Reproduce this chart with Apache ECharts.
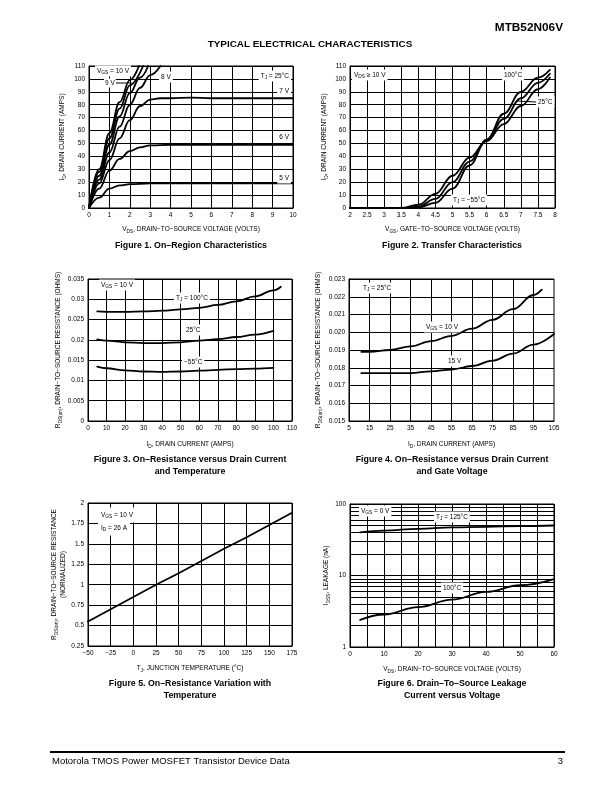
<!DOCTYPE html>
<html><head><meta charset="utf-8">
<script src="https://cdn.jsdelivr.net/npm/echarts@6/dist/echarts.min.js"></script>
<style>html,body{margin:0;padding:0;background:#fff}#c{width:612px;height:792px}</style>
</head><body><div id="c"></div>
<script>
// ---------- DATA ----------
// Figure 1: On-Region Characteristics (VDS volts, ID amps)
const fig1_10V = [[0,0],[0.5,30],[1,58],[1.5,82],[2,99],[2.45,110]];
const fig1_9V = [[0,0],[0.5,28],[1,54],[1.5,77],[2,95],[2.65,110]];
const fig1_extra = [[0,0],[0.5,25],[1,49],[1.5,71],[2,89],[2.5,101],[2.9,110]];
const fig1_8V = [[0,0],[0.5,22],[1,43],[1.5,63],[2,80],[2.5,93],[3,103],[3.5,110]];
const fig1_7V = [[0,0],[0.5,19],[1,37],[1.5,54],[2,68],[2.5,79],[3,84],[3.5,85],[4,85],[5,85.5],[6,85],[7,85],[8,85],[9,85],[10,85]];
const fig1_6V = [[0,0],[0.5,15],[1,29],[1.5,38],[2,44],[2.5,47],[3,48.5],[4,49],[5,49],[6,49],[7,49],[8,49],[9,49],[10,49]];
const fig1_5V = [[0,0],[0.5,8],[1,15],[1.5,17.5],[2,18.5],[3,19],[4,19],[5,19],[6,19],[7,19],[8,19],[9,19],[10,19]];
// Figure 2: Transfer Characteristics (VGS volts, ID amps)
const fig2_m55 = [[2,0],[3.6,0],[4,0.5],[4.5,4],[5,15],[5.5,33],[6,53],[6.5,73],[7,90],[7.5,101],[7.85,107]];
const fig2_25 = [[2,0],[3.6,0],[4,1],[4.5,7],[5,20],[5.5,36],[6,52],[6.5,69],[7,85],[7.5,97],[7.85,104]];
const fig2_100 = [[2,0],[3.5,0],[4,2.5],[4.5,11],[5,25],[5.5,39],[6,52],[6.5,65],[7,79],[7.5,92],[7.85,101]];
// Figure 3: RDS(on) vs ID and temperature
const fig3_100 = [[5,0.027],[10,0.0269],[20,0.0269],[30,0.027],[40,0.0272],[50,0.0275],[60,0.0279],[70,0.0286],[80,0.0295],[90,0.0307],[100,0.0322],[104,0.0331]];
const fig3_25 = [[5,0.0201],[10,0.0198],[20,0.0194],[30,0.0192],[40,0.0192],[50,0.0194],[60,0.0198],[70,0.0202],[80,0.0207],[90,0.0213],[100,0.0222]];
const fig3_m55 = [[5,0.0134],[10,0.013],[20,0.0125],[30,0.0122],[40,0.0121],[50,0.0122],[60,0.0124],[70,0.0126],[80,0.0128],[90,0.0129],[100,0.0131]];
// Figure 4: RDS(on) vs ID and gate voltage
const fig4_10V = [[11,0.0189],[15,0.0189],[25,0.019],[35,0.0192],[45,0.0195],[55,0.0198],[65,0.0202],[75,0.0207],[85,0.0213],[95,0.0221],[99,0.0224]];
const fig4_15V = [[11,0.0177],[15,0.0177],[25,0.0177],[35,0.0177],[45,0.0178],[55,0.0179],[65,0.0181],[75,0.0184],[85,0.0188],[95,0.0193],[105,0.0199]];
const fig4_gridX = [15,25,35,45,55,65,75,85,95];
// Figure 5: normalized RDS(on) vs TJ
const fig5_line = [[-50,0.55],[-25,0.70],[0,0.85],[25,1.0],[50,1.14],[75,1.29],[100,1.44],[125,1.58],[150,1.73],[175,1.88]];
// Figure 6: IDSS leakage vs VDS
const fig6_125 = [[3,40],[10,42.5],[20,45],[30,47],[40,48],[50,49],[60,50]];
const fig6_100 = [[3,2.4],[10,2.85],[20,3.6],[30,4.6],[40,5.9],[50,7.3],[60,8.9]];
const fig6_minorY = [2,3,4,5,6,7,8,9,20,30,40,50,60,70,80,90];

// ---------- STYLE / HELPERS ----------
const FONT = '"Liberation Sans", Arial, Helvetica, sans-serif';
const FS = 6.5;
const rich = {
  n: {fontSize: FS, fontFamily: FONT, color: '#000', lineHeight: 9},
  s: {fontSize: 4.8, fontFamily: FONT, color: '#000', verticalAlign: 'bottom', lineHeight: 5}
};
const sub = (a, s, b) => `{n|${a}}{s|${s}}{n|${b}}`;
const minus = v => String(v).replace('-', '\u2212');

const grids = [
  {left: 89, top: 66, width: 204, height: 142},
  {left: 350, top: 66, width: 205, height: 142},
  {left: 88, top: 279, width: 204, height: 142},
  {left: 349, top: 279, width: 205, height: 142},
  {left: 88, top: 503, width: 204, height: 143},
  {left: 350, top: 504, width: 204, height: 143}
].map(g => Object.assign({show: true, borderColor: '#000', borderWidth: 1, backgroundColor: 'transparent'}, g));

function axis(gi, o) {
  return Object.assign({
    gridIndex: gi, type: 'value',
    axisLine: {show: true, onZero: false, lineStyle: {color: '#000', width: 1}},
    axisTick: {show: false},
    splitLine: {show: true, lineStyle: {color: '#000', width: 1}},
    axisLabel: {color: '#000', fontSize: FS, fontFamily: FONT, margin: 4, showMinLabel: true, showMaxLabel: true},
    nameLocation: 'middle',
    nameTextStyle: {color: '#000', fontSize: FS, fontFamily: FONT, rich: rich}
  }, o);
}

const xAxes = [
  axis(0, {min: 0, max: 10, interval: 1, name: sub('V','DS',', DRAIN\u2212TO\u2212SOURCE VOLTAGE (VOLTS)'), nameGap: 17}),
  axis(1, {min: 2, max: 8, interval: 0.5, name: sub('V','GS',', GATE\u2212TO\u2212SOURCE VOLTAGE (VOLTS)'), nameGap: 17}),
  axis(2, {min: 0, max: 110, interval: 10, name: sub('I','D',', DRAIN CURRENT (AMPS)'), nameGap: 19}),
  axis(3, {min: 5, max: 105, interval: 5, splitLine: {show: false},
    axisLabel: {color: '#000', fontSize: FS, fontFamily: FONT, margin: 4, formatter: v => (Math.round(v) % 10 === 5 ? String(v) : '')},
    name: sub('I','D',', DRAIN CURRENT (AMPS)'), nameGap: 19}),
  axis(4, {min: -50, max: 175, interval: 25, axisLabel: {color: '#000', fontSize: FS, fontFamily: FONT, margin: 4, formatter: minus},
    name: sub('T','J',', JUNCTION TEMPERATURE (\u00B0C)'), nameGap: 18}),
  axis(5, {min: 0, max: 60, interval: 5, axisLabel: {color: '#000', fontSize: FS, fontFamily: FONT, margin: 4, formatter: v => (v % 10 === 0 ? String(v) : '')},
    name: sub('V','DS',', DRAIN\u2212TO\u2212SOURCE VOLTAGE (VOLTS)'), nameGap: 18})
];
const yAxes = [
  axis(0, {min: 0, max: 110, interval: 10, name: sub('I','D',', DRAIN CURRENT (AMPS)'), nameGap: 22, nameRotate: 90}),
  axis(1, {min: 0, max: 110, interval: 10, name: sub('I','D',', DRAIN CURRENT (AMPS)'), nameGap: 21, nameRotate: 90}),
  axis(2, {min: 0, max: 0.035, interval: 0.005, name: sub('R','DS(on)',', DRAIN\u2212TO\u2212SOURCE RESISTANCE (OHMS)'), nameGap: 25, nameRotate: 90}),
  axis(3, {min: 0.015, max: 0.023, interval: 0.001, axisLabel: {color: '#000', fontSize: FS, fontFamily: FONT, margin: 4, formatter: v => v.toFixed(3)},
    name: sub('R','DS(on)',', DRAIN\u2212TO\u2212SOURCE RESISTANCE (OHMS)'), nameGap: 26, nameRotate: 90}),
  axis(4, {min: 0.25, max: 2, interval: 0.25, name: sub('R','DS(on)',', DRAIN\u2212TO\u2212SOURCE RESISTANCE') + '\n{n|(NORMALIZED)}', nameGap: 20, nameRotate: 90}),
  axis(5, {type: 'log', logBase: 10, min: 1, max: 100, name: sub('I','DSS',', LEAKAGE (nA)'), nameGap: 19, nameRotate: 90})
];

function line(gi, data, o) {
  return Object.assign({
    type: 'line', xAxisIndex: gi, yAxisIndex: gi, data: data,
    showSymbol: false, smooth: 0.4, smoothMonotone: 'x', silent: true, animation: false,
    lineStyle: {color: '#000', width: 1.8, cap: 'round', join: 'round'}, z: 5
  }, o || {});
}
const mlStyle = {silent: true, symbol: ['none','none'], label: {show: false}, animation: false,
  lineStyle: {color: '#000', width: 1, type: 'solid'}, emphasis: {disabled: true}};

const series = [
  line(0, fig1_10V), line(0, fig1_9V), line(0, fig1_extra), line(0, fig1_8V),
  line(0, fig1_7V), line(0, fig1_6V), line(0, fig1_5V),
  line(1, fig2_m55), line(1, fig2_25), line(1, fig2_100),
  line(2, fig3_100), line(2, fig3_25), line(2, fig3_m55),
  line(3, fig4_10V, {markLine: Object.assign({data: fig4_gridX.map(v => ({xAxis: v}))}, mlStyle)}),
  line(3, fig4_15V),
  line(4, fig5_line, {smooth: false}),
  line(5, fig6_125, {markLine: Object.assign({data: fig6_minorY.map(v => ({yAxis: v}))}, mlStyle)}),
  line(5, fig6_100)
];

// ---------- TEXT ANNOTATIONS ----------
function txt(x, y, text, o) {
  o = o || {};
  return {type: 'text', x: x, y: y, z: 100, silent: true, style: {
    text: text, rich: rich, fill: '#000', font: (o.bold ? 'bold ' : '') + (o.size || FS) + 'px ' + FONT,
    backgroundColor: o.bg === false ? null : '#fff', padding: o.pad || [1, 2, 1, 2],
    align: o.align || 'left', verticalAlign: 'middle'}};
}
function ln(x1, y1, x2, y2, w) {
  return {type: 'line', z: 99, silent: true, shape: {x1, y1, x2, y2}, style: {stroke: '#000', lineWidth: w || 1}};
}
const cap = (x, y, t) => txt(x, y, t, {size: 8.8, bold: true, align: 'center', bg: false, pad: 0});

const graphics = [
  txt(565, 28, 'MTB52N06V', {size: 11.8, bold: true, align: 'right', bg: false, pad: 0}),
  txt(310, 44, 'TYPICAL ELECTRICAL CHARACTERISTICS', {size: 9.9, bold: true, align: 'center', bg: false, pad: 0}),
  // fig 1
  txt(95, 71, sub('V','GS',' = 10 V')),
  txt(104, 83, '{n|9 V}', {pad: [0, 1, 0, 1]}), ln(116, 83, 132, 83),
  txt(159, 77, '{n|8 V}'),
  txt(291, 76, sub('T','J',' = 25\u00B0C'), {align: 'right'}),
  txt(291, 91, '{n|7 V}', {align: 'right'}),
  txt(291, 137, '{n|6 V}', {align: 'right'}),
  txt(291, 178, '{n|5 V}', {align: 'right'}),
  // fig 2
  txt(352, 75, sub('V','DS',' \u2265 10 V')),
  txt(502, 75, '{n|100\u00B0C}'),
  ln(517, 101, 536, 102), txt(536, 102, '{n|25\u00B0C}'),
  txt(451, 200, sub('T','J',' = \u221255\u00B0C')),
  // fig 3
  txt(99, 285, sub('V','GS',' = 10 V')),
  txt(174, 298, sub('T','J',' = 100\u00B0C')),
  txt(184, 330, '{n|25\u00B0C}'),
  txt(182, 362, '{n|\u221255\u00B0C}'),
  // fig 4
  txt(361, 288, sub('T','J',' = 25\u00B0C')),
  txt(424, 327, sub('V','GS',' = 10 V')),
  txt(446, 361, '{n|15 V}'),
  // fig 5
  txt(98, 515, sub('V','GS',' = 10 V'), {pad: [3, 3, 3, 3]}),
  txt(98, 528, sub('I','D',' = 26 A'), {pad: [3, 3, 3, 3]}),
  // fig 6
  txt(359, 511, sub('V','GS',' = 0 V')),
  txt(434, 517, sub('T','J',' = 125\u00B0C')),
  txt(441, 588, '{n|100\u00B0C}'),
  // captions
  cap(191, 246, 'Figure 1. On\u2013Region Characteristics'),
  cap(452, 246, 'Figure 2. Transfer Characteristics'),
  cap(190, 460, 'Figure 3. On\u2013Resistance versus Drain Current'),
  cap(190, 472, 'and Temperature'),
  cap(452, 460, 'Figure 4. On\u2013Resistance versus Drain Current'),
  cap(452, 472, 'and Gate Voltage'),
  cap(190, 684, 'Figure 5. On\u2013Resistance Variation with'),
  cap(190, 696, 'Temperature'),
  cap(452, 684, 'Figure 6. Drain\u2013To\u2013Source Leakage'),
  cap(452, 696, 'Current versus Voltage'),
  // footer
  ln(50, 752, 565, 752, 2),
  txt(50, 761, 'Motorola TMOS Power MOSFET Transistor Device Data', {size: 9.5, bg: false, pad: 0}),
  txt(565, 761, '3', {size: 9.5, bg: false, pad: 0, align: 'right'})
];

const chart = echarts.init(document.getElementById('c'), null, {renderer: 'canvas'});
chart.setOption({
  animation: false,
  backgroundColor: '#fff',
  grid: grids,
  xAxis: xAxes,
  yAxis: yAxes,
  series: series,
  graphic: graphics
});
</script></body></html>
